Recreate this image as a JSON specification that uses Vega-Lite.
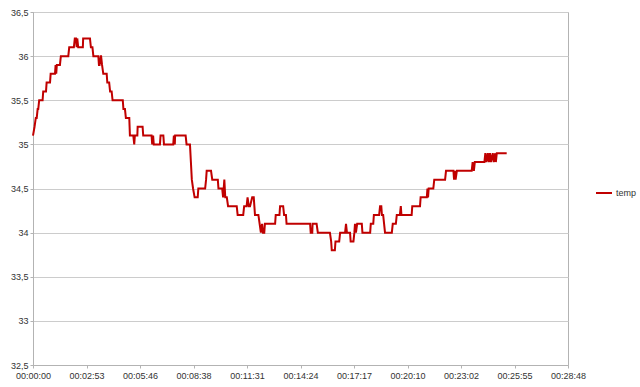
{
  "$schema": "https://vega.github.io/schema/vega-lite/v6.json",
  "width": 535,
  "height": 353,
  "autosize": "none",
  "padding": {"left": 33, "top": 12, "right": 72, "bottom": 22},
  "background": "white",
  "config": {
    "view": {"stroke": "#b3b3b3", "strokeWidth": 1},
    "font": "Liberation Sans",
    "axis": {
      "labelFont": "Liberation Sans",
      "labelFontSize": 9,
      "labelColor": "#333333",
      "domainColor": "#b3b3b3",
      "tickColor": "#b3b3b3",
      "gridColor": "#cccccc",
      "gridWidth": 1,
      "title": null
    }
  },
  "data": {
    "values": [
      {"t": 0, "temp": 35.1}, {"t": 5, "temp": 35.2}, {"t": 9, "temp": 35.3}, {"t": 12, "temp": 35.3},
      {"t": 15, "temp": 35.4}, {"t": 17, "temp": 35.4}, {"t": 20, "temp": 35.5}, {"t": 31, "temp": 35.5},
      {"t": 33, "temp": 35.6}, {"t": 42, "temp": 35.6}, {"t": 44, "temp": 35.7}, {"t": 55, "temp": 35.7},
      {"t": 57, "temp": 35.8}, {"t": 71, "temp": 35.8}, {"t": 73, "temp": 35.9}, {"t": 75, "temp": 35.8},
      {"t": 77, "temp": 35.9}, {"t": 87, "temp": 35.9}, {"t": 90, "temp": 36.0}, {"t": 114, "temp": 36.0},
      {"t": 117, "temp": 36.1}, {"t": 132, "temp": 36.1}, {"t": 135, "temp": 36.2}, {"t": 139, "temp": 36.2},
      {"t": 141, "temp": 36.1}, {"t": 143, "temp": 36.2}, {"t": 146, "temp": 36.1}, {"t": 161, "temp": 36.1},
      {"t": 162, "temp": 36.2}, {"t": 184, "temp": 36.2}, {"t": 187, "temp": 36.1}, {"t": 192, "temp": 36.1},
      {"t": 195, "temp": 36.0}, {"t": 211, "temp": 36.0}, {"t": 213, "temp": 35.9}, {"t": 215, "temp": 35.9},
      {"t": 219, "temp": 36.0}, {"t": 220, "temp": 36.0}, {"t": 223, "temp": 35.9}, {"t": 227, "temp": 35.8},
      {"t": 238, "temp": 35.8}, {"t": 240, "temp": 35.7}, {"t": 246, "temp": 35.7}, {"t": 249, "temp": 35.6},
      {"t": 254, "temp": 35.6}, {"t": 257, "temp": 35.5}, {"t": 290, "temp": 35.5}, {"t": 292, "temp": 35.4},
      {"t": 297, "temp": 35.4}, {"t": 300, "temp": 35.3}, {"t": 311, "temp": 35.3}, {"t": 312, "temp": 35.2},
      {"t": 313, "temp": 35.1}, {"t": 324, "temp": 35.1}, {"t": 327, "temp": 35.0}, {"t": 329, "temp": 35.1},
      {"t": 337, "temp": 35.1}, {"t": 338, "temp": 35.2}, {"t": 354, "temp": 35.2}, {"t": 356, "temp": 35.1},
      {"t": 383, "temp": 35.1}, {"t": 385, "temp": 35.0}, {"t": 388, "temp": 35.1}, {"t": 390, "temp": 35.0},
      {"t": 394, "temp": 35.0}, {"t": 410, "temp": 35.0}, {"t": 412, "temp": 35.1}, {"t": 421, "temp": 35.1},
      {"t": 423, "temp": 35.0}, {"t": 453, "temp": 35.0}, {"t": 455, "temp": 35.1}, {"t": 458, "temp": 35.0},
      {"t": 459, "temp": 35.1}, {"t": 493, "temp": 35.1}, {"t": 496, "temp": 35.0}, {"t": 507, "temp": 35.0},
      {"t": 510, "temp": 34.8}, {"t": 513, "temp": 34.6}, {"t": 517, "temp": 34.5}, {"t": 522, "temp": 34.4},
      {"t": 532, "temp": 34.4}, {"t": 534, "temp": 34.5}, {"t": 556, "temp": 34.5}, {"t": 559, "temp": 34.6},
      {"t": 561, "temp": 34.7}, {"t": 575, "temp": 34.7}, {"t": 579, "temp": 34.6}, {"t": 597, "temp": 34.6},
      {"t": 599, "temp": 34.5}, {"t": 611, "temp": 34.5}, {"t": 614, "temp": 34.4}, {"t": 618, "temp": 34.6},
      {"t": 621, "temp": 34.4}, {"t": 626, "temp": 34.4}, {"t": 630, "temp": 34.3}, {"t": 658, "temp": 34.3},
      {"t": 661, "temp": 34.2}, {"t": 679, "temp": 34.2}, {"t": 682, "temp": 34.3}, {"t": 690, "temp": 34.3},
      {"t": 693, "temp": 34.4}, {"t": 697, "temp": 34.3}, {"t": 701, "temp": 34.3}, {"t": 708, "temp": 34.4},
      {"t": 713, "temp": 34.4}, {"t": 715, "temp": 34.3}, {"t": 717, "temp": 34.2}, {"t": 728, "temp": 34.2},
      {"t": 732, "temp": 34.1}, {"t": 736, "temp": 34.0}, {"t": 740, "temp": 34.1}, {"t": 743, "temp": 34.0},
      {"t": 747, "temp": 34.0}, {"t": 749, "temp": 34.1}, {"t": 782, "temp": 34.1}, {"t": 784, "temp": 34.2},
      {"t": 796, "temp": 34.2}, {"t": 798, "temp": 34.3}, {"t": 808, "temp": 34.3}, {"t": 811, "temp": 34.2},
      {"t": 817, "temp": 34.2}, {"t": 819, "temp": 34.1}, {"t": 895, "temp": 34.1}, {"t": 897, "temp": 34.0},
      {"t": 902, "temp": 34.0}, {"t": 903, "temp": 34.1}, {"t": 916, "temp": 34.1}, {"t": 920, "temp": 34.0},
      {"t": 959, "temp": 34.0}, {"t": 963, "temp": 33.9}, {"t": 965, "temp": 33.8}, {"t": 975, "temp": 33.8},
      {"t": 977, "temp": 33.9}, {"t": 989, "temp": 33.9}, {"t": 992, "temp": 34.0}, {"t": 1008, "temp": 34.0},
      {"t": 1011, "temp": 34.1}, {"t": 1014, "temp": 34.0}, {"t": 1024, "temp": 34.0}, {"t": 1026, "temp": 33.9},
      {"t": 1035, "temp": 33.9}, {"t": 1038, "temp": 34.0}, {"t": 1040, "temp": 34.1}, {"t": 1043, "temp": 34.0},
      {"t": 1047, "temp": 34.1}, {"t": 1062, "temp": 34.1}, {"t": 1064, "temp": 34.0}, {"t": 1089, "temp": 34.0},
      {"t": 1091, "temp": 34.1}, {"t": 1099, "temp": 34.1}, {"t": 1101, "temp": 34.2}, {"t": 1118, "temp": 34.2},
      {"t": 1121, "temp": 34.3}, {"t": 1125, "temp": 34.3}, {"t": 1127, "temp": 34.2}, {"t": 1131, "temp": 34.2},
      {"t": 1134, "temp": 34.1}, {"t": 1137, "temp": 34.0}, {"t": 1159, "temp": 34.0}, {"t": 1162, "temp": 34.1},
      {"t": 1172, "temp": 34.1}, {"t": 1175, "temp": 34.2}, {"t": 1185, "temp": 34.2}, {"t": 1188, "temp": 34.3},
      {"t": 1190, "temp": 34.2}, {"t": 1223, "temp": 34.2}, {"t": 1225, "temp": 34.3}, {"t": 1250, "temp": 34.3},
      {"t": 1252, "temp": 34.4}, {"t": 1272, "temp": 34.4}, {"t": 1274, "temp": 34.5}, {"t": 1276, "temp": 34.4},
      {"t": 1278, "temp": 34.5}, {"t": 1293, "temp": 34.5}, {"t": 1296, "temp": 34.6}, {"t": 1331, "temp": 34.6},
      {"t": 1334, "temp": 34.7}, {"t": 1358, "temp": 34.7}, {"t": 1360, "temp": 34.6}, {"t": 1363, "temp": 34.7},
      {"t": 1365, "temp": 34.6}, {"t": 1369, "temp": 34.7}, {"t": 1417, "temp": 34.7}, {"t": 1420, "temp": 34.8},
      {"t": 1424, "temp": 34.7}, {"t": 1427, "temp": 34.8}, {"t": 1458, "temp": 34.8}, {"t": 1461, "temp": 34.9},
      {"t": 1464, "temp": 34.8}, {"t": 1469, "temp": 34.9}, {"t": 1472, "temp": 34.8}, {"t": 1476, "temp": 34.9},
      {"t": 1479, "temp": 34.8}, {"t": 1485, "temp": 34.9}, {"t": 1488, "temp": 34.8}, {"t": 1493, "temp": 34.9},
      {"t": 1495, "temp": 34.8}, {"t": 1498, "temp": 34.9}, {"t": 1530, "temp": 34.9}
    ]
  },
  "mark": {"type": "line", "strokeWidth": 2, "interpolate": "linear"},
  "encoding": {
    "x": {
      "field": "t",
      "type": "quantitative",
      "scale": {"domain": [0, 1728], "nice": false, "zero": false},
      "axis": {
        "values": [0, 172.8, 345.6, 518.4, 691.2, 864, 1036.8, 1209.6, 1382.4, 1555.2, 1728],
        "labelExpr": "utcFormat(round(datum.value) * 1000, '%H:%M:%S')",
        "grid": false,
        "tickSize": 3,
        "labelPadding": 3,
        "labelFlush": false,
        "labelOverlap": false
      }
    },
    "y": {
      "field": "temp",
      "type": "quantitative",
      "scale": {"domain": [32.5, 36.5], "nice": false, "zero": false},
      "axis": {
        "values": [32.5, 33, 33.5, 34, 34.5, 35, 35.5, 36, 36.5],
        "labelExpr": "replace(toString(datum.value), '.', ',')",
        "grid": true,
        "tickSize": 3,
        "labelPadding": 2,
        "labelFlush": false,
        "labelOverlap": false
      }
    },
    "color": {
      "datum": "temp",
      "type": "nominal",
      "scale": {"range": ["#c00000"]},
      "legend": {
        "title": null,
        "orient": "none",
        "legendX": 562,
        "legendY": 172,
        "symbolType": "stroke",
        "symbolSize": 256,
        "symbolStrokeWidth": 2,
        "labelFontSize": 9,
        "labelColor": "#333333",
        "labelFont": "Liberation Sans",
        "labelOffset": 3
      }
    }
  }
}
